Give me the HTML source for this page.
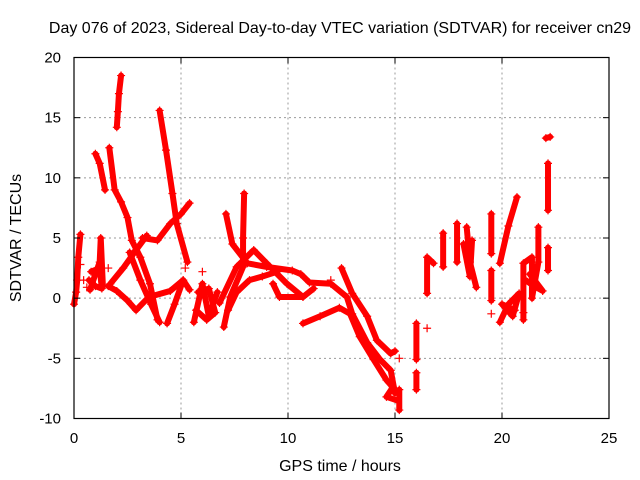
<!DOCTYPE html>
<html><head><meta charset="utf-8"><style>
body{margin:0;background:#fff;}
svg{display:block;font-family:"Liberation Sans",sans-serif;}
</style></head><body>
<svg id="chart" width="640" height="480" viewBox="0 0 640 480">
<rect width="640" height="480" fill="#fff"/>
<text x="340" y="33" text-anchor="middle" font-size="16" fill="#000">Day 076 of 2023, Sidereal Day-to-day VTEC variation (SDTVAR) for receiver cn29</text>
<g id="grid"></g>
<g id="marks"></g>
<g id="axes"></g>
<text x="340" y="471" text-anchor="middle" font-size="16">GPS time / hours</text>
<text transform="translate(21,238) rotate(-90)" text-anchor="middle" font-size="16">SDTVAR / TECUs</text>
</svg>
<script>
const xTicks=[0,5,10,15,20,25];
const yTicks=[-10,-5,0,5,10,15,20];
const trackA=[[2.0,14.2],[2.05,15.5],[2.1,17],[2.2,18.5]];
const trackB=[[1.0,12],[1.2,11.2],[1.45,9]];
const trackC=[[1.65,12.5],[1.9,9],[2.2,8],[2.5,6.7],[2.7,4.8],[3.1,3.4],[3.55,1.2],[3.9,-1.8]];
const trackD=[[1.7,1.2],[2.3,2.5],[2.9,4],[3.4,5.2]];
const trackE=[[1.6,1],[2.0,0.6],[2.5,-0.2],[2.9,-1],[3.5,0.1],[4.5,0.6],[5.1,1.5],[5.4,0.7]];
const trackF=[[3.2,5],[3.9,4.8],[4.5,6.2],[5.0,7],[5.4,7.9]];
const trackG=[[4.0,15.6],[4.3,12.3],[4.6,8.7],[4.8,6.2],[5.3,3]];
const trackH=[[2.6,3.8],[3.1,1.5],[3.6,-0.5],[4.0,-2]];
const trackI=[[4.35,-2.1],[4.7,-0.5],[5.1,1.5]];
const trackJ=[[0.0,-0.5],[0.1,0.5],[0.15,1.5],[0.2,3.4],[0.3,5.3]];
const trackK=[[0.75,0.7],[1.0,2.0],[1.2,3],[1.25,5],[1.35,1]];
const trackK2=[[0.7,1.5],[1.0,1.0],[1.3,0.8],[1.2,2.5],[0.8,2.2]];
const trackL=[[5.6,-2],[6.0,1.2],[6.3,-1.5],[6.7,0.5]];
const trackL2=[[5.7,-1],[6.2,-1.8],[6.6,-1.2],[6.3,0.8],[5.8,0.5]];
const trackM=[[7.1,7],[7.4,4.5],[8.1,2.9],[9.0,2.6],[10.2,2.3],[10.6,2],[11.0,1.3],[12.0,1.2],[12.75,0.1],[13.0,-1.3],[13.7,-3.7],[14.3,-5.1],[14.8,-6],[15.0,-7.9]];
const trackN=[[12.5,2.5],[13.0,0.4],[13.7,-1.5],[14.15,-3.5],[14.8,-4.6],[15.0,-4.4]];
const trackO=[[10.7,-2.1],[11.5,-1.5],[12.4,-0.8],[12.9,-1.3],[13.35,-3.2],[14.0,-5.1],[14.6,-6.8],[14.9,-7.4],[14.6,-8.2],[15.1,-8.5]];
const trackP=[[6.8,-0.4],[7.6,2.6],[8.4,4],[9.0,2.9],[9.95,1.2],[10.7,0.1]];
const trackQ=[[7.0,-2.4],[7.3,0.1],[7.9,2.6],[7.9,5],[7.95,8.7]];
const trackQ2=[[7.2,-1],[7.6,0.5],[8.2,1.5],[8.8,1.8],[9.5,2.2]];
const trackR=[[9.3,1.2],[9.6,0.1],[10.7,0.1],[11.2,0.8]];
const trackS=[[15.2,-7.6],[15.2,-9.3]];
const trackT=[[16.0,-2.1],[16.0,-5.1]];
const trackU=[[16.0,-6.2],[16.0,-7.6]];
const trackV=[[16.5,0.4],[16.5,3.4],[16.8,2.9]];
const trackW=[[17.25,2.6],[17.25,5.4]];
const trackX=[[17.9,3],[17.9,6.2]];
const trackY=[[18.35,5.9],[18.5,3],[18.8,0.9]];
const trackY2=[[18.2,4.5],[18.5,1.8],[18.6,4.8]];
const trackZ=[[19.5,3.7],[19.5,7]];
const trackAA=[[19.5,-0.2],[19.5,2.3]];
const trackAB=[[19.9,2.9],[20.3,6],[20.7,8.4]];
const trackAC=[[19.9,-2],[20.3,-0.5],[20.8,0.4],[20.5,-1.5],[20.0,-0.5],[20.6,-1.0]];
const trackAD=[[21.0,-1.8],[21.0,2.9],[21.4,3.4],[21.4,0],[21.7,3],[21.7,5.9]];
const trackAD2=[[21.1,1.5],[21.5,1.0],[21.9,0.6],[21.3,2.0]];
const trackAE=[[22.15,2.3],[22.15,4.2]];
const trackAF=[[22.15,7.3],[22.15,11.2]];
const trackAG=[[22.05,13.3],[22.25,13.4]];
const singles=[[0.6,0.9],[0.3,2.8],[15.2,-5],[16.5,-2.5],[19.5,-1.3],[12.0,1.5],[6.0,2.2],[0.45,1.5],[1.6,2.5],[5.2,2.5],[21.0,-1.2]];
const tracks=[trackA,trackB,trackC,trackD,trackE,trackF,trackG,trackH,trackI,trackJ,trackK,trackK2,trackL,trackL2,trackM,trackN,trackO,trackP,trackQ,trackQ2,trackR,trackS,trackT,trackU,trackV,trackW,trackX,trackY,trackY2,trackZ,trackAA,trackAB,trackAC,trackAD,trackAD2,trackAE,trackAF,trackAG];

const L=74,R=609,T=57.5,B=418.5;
const xs=v=>L+(v-0)/25*(R-L);
const ys=v=>B-(v+10)/30*(B-T);
const NS="http://www.w3.org/2000/svg";
function mk(tag,attrs,parent){const e=document.createElementNS(NS,tag);for(const k in attrs)e.setAttribute(k,attrs[k]);parent.appendChild(e);return e;}
const grid=document.getElementById('grid'),axes=document.getElementById('axes'),marks=document.getElementById('marks');
xTicks.forEach(t=>{
  const x=xs(t);
  if(t>0&&t<25){const g=mk('line',{x1:x,x2:x,y1:T,y2:B,stroke:'#999','stroke-dasharray':'2,3'},grid);
  
  }
  mk('line',{x1:x,x2:x,y1:B,y2:B-6,stroke:'#000'},axes);
  mk('line',{x1:x,x2:x,y1:T,y2:T+6,stroke:'#000'},axes);
  const tx=mk('text',{x:x,y:443,'text-anchor':'middle','font-size':'15'},axes);
  tx.textContent=t;
  
  
});
yTicks.forEach(t=>{
  const y=ys(t);
  if(t>-10&&t<20){const g=mk('line',{x1:L,x2:R,y1:y,y2:y,stroke:'#999','stroke-dasharray':'2,3'},grid);
  
  }
  mk('line',{x1:L,x2:L+6,y1:y,y2:y,stroke:'#000'},axes);
  mk('line',{x1:R,x2:R-6,y1:y,y2:y,stroke:'#000'},axes);
  const tx=mk('text',{x:61,y:y+5,'text-anchor':'end','font-size':'15'},axes);
  tx.textContent=t;
  
  
});
const fr=mk('rect',{x:L,y:T,width:R-L,height:B-T,fill:'none',stroke:'#000','stroke-width':1.2},axes);


function plus(x,y){
  const p=mk('path',{d:`M${x-4} ${y}H${x+4}M${x} ${y-4}V${y+4}`,stroke:'#f00','stroke-width':1.2,fill:'none'},marks);
  
  
}
tracks.forEach(tr=>{
  const pl=mk('polyline',{points:tr.map(p=>xs(p[0])+','+ys(p[1])).join(' '),fill:'none',stroke:'#f00','stroke-width':6,'stroke-linejoin':'round','stroke-linecap':'round'},marks);
  
  
  tr.forEach(p=>plus(xs(p[0]),ys(p[1])));
});
singles.forEach(p=>plus(xs(p[0]),ys(p[1])));
</script>
</body></html>
